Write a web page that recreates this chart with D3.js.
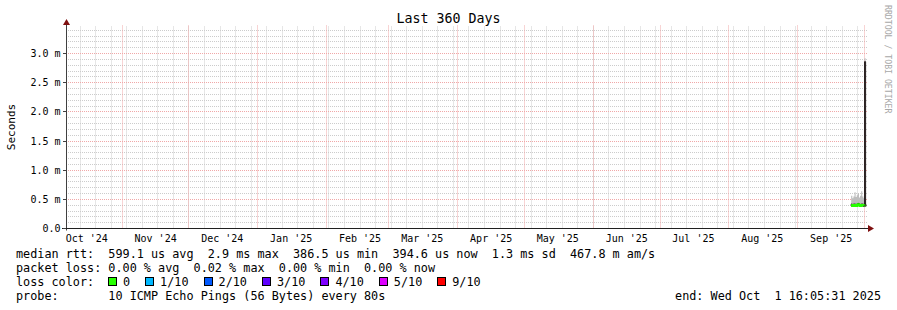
<!DOCTYPE html>
<html>
<head>
<meta charset="utf-8">
<script src="https://cdn.jsdelivr.net/npm/d3@7"></script>
<style>
  body { margin: 0; background: #fff; }
  text { font-family: "DejaVu Sans Mono", monospace; white-space: pre; }
</style>
</head>
<body>
<svg id="chart"></svg>
<script>
// time window: last 360 days, ending at the probe time
const endTime = new Date(Date.UTC(2025, 9, 1, 16, 5, 31));
const startTime = new Date(+endTime - 360 * 864e5);

// samples (12h consolidation), values in ms
const sampleStart = Date.UTC(2025, 8, 25, 0, 0, 0);
const sampleStepHours = 12;
const medianMs     = [0.40, 0.39, 0.40, 0.40, 0.39, 0.40, 0.41, 0.40, 0.39, 0.40, 0.40, 0.39, 2.86, 0.39];
const smokeLoMs    = [0.37, 0.37, 0.38, 0.37, 0.37, 0.38, 0.38, 0.37, 0.37, 0.38, 0.37, 0.37, 0.38, 0.37];
const smokeInLoMs  = [0.39, 0.38, 0.39, 0.39, 0.38, 0.39, 0.40, 0.39, 0.38, 0.39, 0.39, 0.38, 0.42, 0.38];
const smokeInHiMs  = [0.42, 0.41, 0.42, 0.42, 0.41, 0.42, 0.43, 0.42, 0.41, 0.42, 0.42, 0.41, 2.86, 0.41];
const smokeHiMs    = [0.56, 0.52, 0.55, 0.62, 0.54, 0.57, 0.60, 0.53, 0.56, 0.64, 0.55, 0.52, 2.92, 0.50];
const lossTenths   = [0, 0, 0, 0, 0, 0, 0, 0, 0, 0, 0, 0, 1, 0];

const yMajorTicks = [0, 0.5, 1.0, 1.5, 2.0, 2.5, 3.0];
const yMaxMs = 3.4286;

const lossLevels = [0, 1, 2, 3, 4, 5, 9];
const lossLabels = ['0', '1/10', '2/10', '3/10', '4/10', '5/10', '9/10'];
const lossColors = ['#26ff00', '#00b8ff', '#0059ff', '#5e00ff', '#7e00ff', '#dd00ff', '#ff0000'];

const rttLegend  = 'median rtt:  599.1 us avg  2.9 ms max  386.5 us min  394.6 us now  1.3 ms sd  467.8 m am/s';
const lossLegend = 'packet loss: 0.00 % avg  0.02 % max  0.00 % min  0.00 % now';
const probeText  = 'probe:       10 ICMP Echo Pings (56 Bytes) every 80s';
const endText    = 'end: Wed Oct  1 16:05:31 2025';

const width = 897, height = 310;
const plot = { left: 66, right: 866, top: 28.5, bottom: 228.5 };
const legendFont = 11.8;
const charW = legendFont * 0.6021;

const svg = d3.select('#chart').attr('width', width).attr('height', height);

const x = d3.scaleUtc().domain([startTime, endTime]).range([plot.left, plot.right]);
const y = d3.scaleLinear().domain([0, yMaxMs]).range([plot.bottom, plot.top]);
const crisp = v => Math.floor(v) + 0.5;

// ---- grid
const grid = svg.append('g');
const weeks = d3.utcSunday.range(startTime, endTime);
const months = d3.utcMonth.range(startTime, endTime);

grid.selectAll('.hmin').data(y.ticks(35).filter(v => Math.abs(v * 2 - Math.round(v * 2)) > 1e-6))
  .join('line')
  .attr('x1', plot.left).attr('x2', plot.right + 2)
  .attr('y1', d => crisp(y(d))).attr('y2', d => crisp(y(d)))
  .attr('stroke', '#cccccc').attr('stroke-dasharray', '1,1');

grid.selectAll('.vmin').data(weeks)
  .join('line')
  .attr('x1', d => crisp(x(d))).attr('x2', d => crisp(x(d)))
  .attr('y1', plot.top - 2).attr('y2', plot.bottom)
  .attr('stroke', '#cccccc').attr('stroke-dasharray', '1,1');

grid.selectAll('.hmaj').data(yMajorTicks.slice(1))
  .join('line')
  .attr('x1', plot.left).attr('x2', plot.right + 2)
  .attr('y1', d => crisp(y(d))).attr('y2', d => crisp(y(d)))
  .attr('stroke', '#f0a8a8').attr('stroke-dasharray', '1,1');

grid.selectAll('.vmaj').data(months)
  .join('line')
  .attr('x1', d => crisp(x(d))).attr('x2', d => crisp(x(d)))
  .attr('y1', plot.top - 3).attr('y2', plot.bottom)
  .attr('stroke', '#f0a8a8').attr('stroke-dasharray', '1,1');

// ---- data
const rows = medianMs.map((m, i) => ({
  t: new Date(sampleStart + i * sampleStepHours * 36e5),
  median: m,
  lo: smokeLoMs[i], inLo: smokeInLoMs[i], inHi: smokeInHiMs[i], hi: smokeHiMs[i],
  loss: lossTenths[i]
}));
const last = rows[rows.length - 1];
const series = rows.concat([Object.assign({}, last, {
  t: new Date(Math.min(+last.t + sampleStepHours * 36e5, +endTime))
})]);

const data = svg.append('g');
data.append('path').datum(series)
  .attr('fill', '#bdbdbd')
  .attr('d', d3.area().curve(d3.curveStepAfter)
    .x(d => x(d.t)).y0(d => y(d.lo)).y1(d => y(d.hi)));
data.append('path').datum(series)
  .attr('fill', '#221a1a')
  .attr('stroke', '#221a1a')
  .attr('stroke-width', 0.9)
  .attr('d', d3.area().curve(d3.curveStepAfter)
    .x(d => x(d.t)).y0(d => y(d.inLo)).y1(d => y(d.inHi)));

const lossIndex = v => d3.bisectRight(lossLevels, v) - 1;
lossLevels.forEach((lvl, li) => {
  data.append('path').datum(series)
    .attr('fill', 'none')
    .attr('stroke', lossColors[li])
    .attr('stroke-width', 2.5)
    .attr('d', d3.line().curve(d3.curveStepAfter)
      .defined(d => lossIndex(d.loss) === li)
      .x(d => x(d.t)).y(d => y(d.median)));
});

// ---- axes
const axis = svg.append('g');
axis.append('line')
  .attr('x1', plot.left + 0.5).attr('x2', plot.left + 0.5)
  .attr('y1', plot.bottom + 2).attr('y2', 22)
  .attr('stroke', '#404040');
axis.append('line')
  .attr('x1', plot.left - 4).attr('x2', plot.right + 4)
  .attr('y1', plot.bottom).attr('y2', plot.bottom)
  .attr('stroke', '#202020');
axis.append('path')
  .attr('d', `M${plot.left + 0.5 - 3.5},${25} L${plot.left + 0.5},${19} L${plot.left + 0.5 + 3.5},${25}Z`)
  .attr('fill', '#7f1010');
axis.append('path')
  .attr('d', `M${plot.right + 2},${plot.bottom - 3.5} L${plot.right + 8},${plot.bottom} L${plot.right + 2},${plot.bottom + 3.5}Z`)
  .attr('fill', '#7f1010');

axis.selectAll('.ytick').data(yMajorTicks)
  .join('line')
  .attr('x1', plot.left - 3).attr('x2', plot.left)
  .attr('y1', d => crisp(y(d))).attr('y2', d => crisp(y(d)))
  .attr('stroke', '#404040');

const fmtY = d => d === 0 ? '0.0' : d3.format('.1f')(d) + ' m';
axis.selectAll('.ylab').data(yMajorTicks)
  .join('text')
  .attr('x', 60.5).attr('y', d => y(d) + 3.5)
  .attr('text-anchor', 'end')
  .attr('font-size', 10)
  .attr('fill', '#000')
  .text(fmtY);

const fmtMonth = d3.utcFormat("%b '%y");
const monthLabels = d3.utcMonth.range(d3.utcMonth.floor(startTime), endTime)
  .map(d => ({ d, c: new Date(+d + 15 * 864e5) }))
  .filter(o => o.c >= startTime && o.c <= endTime);
axis.selectAll('.xlab').data(monthLabels)
  .join('text')
  .attr('x', o => x(o.c)).attr('y', 242)
  .attr('text-anchor', 'middle')
  .attr('font-size', 10)
  .attr('fill', '#000')
  .text(o => fmtMonth(o.d));

// ---- titles
svg.append('text')
  .attr('x', width / 2).attr('y', 23)
  .attr('text-anchor', 'middle')
  .attr('font-size', 13.3)
  .text('Last 360 Days');

svg.append('text')
  .attr('transform', 'translate(14.5,127) rotate(-90)')
  .attr('text-anchor', 'middle')
  .attr('font-size', 11)
  .text('Seconds');

svg.append('text')
  .attr('transform', 'translate(884.5,5) rotate(90)')
  .attr('font-size', 8.2)
  .attr('fill', '#a8a8a8')
  .text('RRDTOOL / TOBI OETIKER');

// ---- legend
const legend = svg.append('g').attr('font-size', legendFont).attr('fill', '#000');
legend.append('text').attr('x', 16).attr('y', 258).text(rttLegend);
legend.append('text').attr('x', 16).attr('y', 272).text(lossLegend);
legend.append('text').attr('x', 16).attr('y', 286).text('loss color:');
legend.append('text').attr('x', 16).attr('y', 300).text(probeText);
legend.append('text').attr('x', 881).attr('y', 300).attr('text-anchor', 'end').text(endText);

// boxes then labels, laid out on the monospace grid
let lx = 108;
lossLabels.forEach((lab, i) => {
  legend.append('rect')
    .attr('x', Math.round(lx) + 0.5).attr('y', 277.5)
    .attr('width', 8).attr('height', 8)
    .attr('fill', lossColors[i]).attr('stroke', '#000');
  legend.append('text').attr('x', lx + 15).attr('y', 286).text(lab);
  lx += 15 + (lab.length + 2) * charW + 0.8;
});
</script>
</body>
</html>
